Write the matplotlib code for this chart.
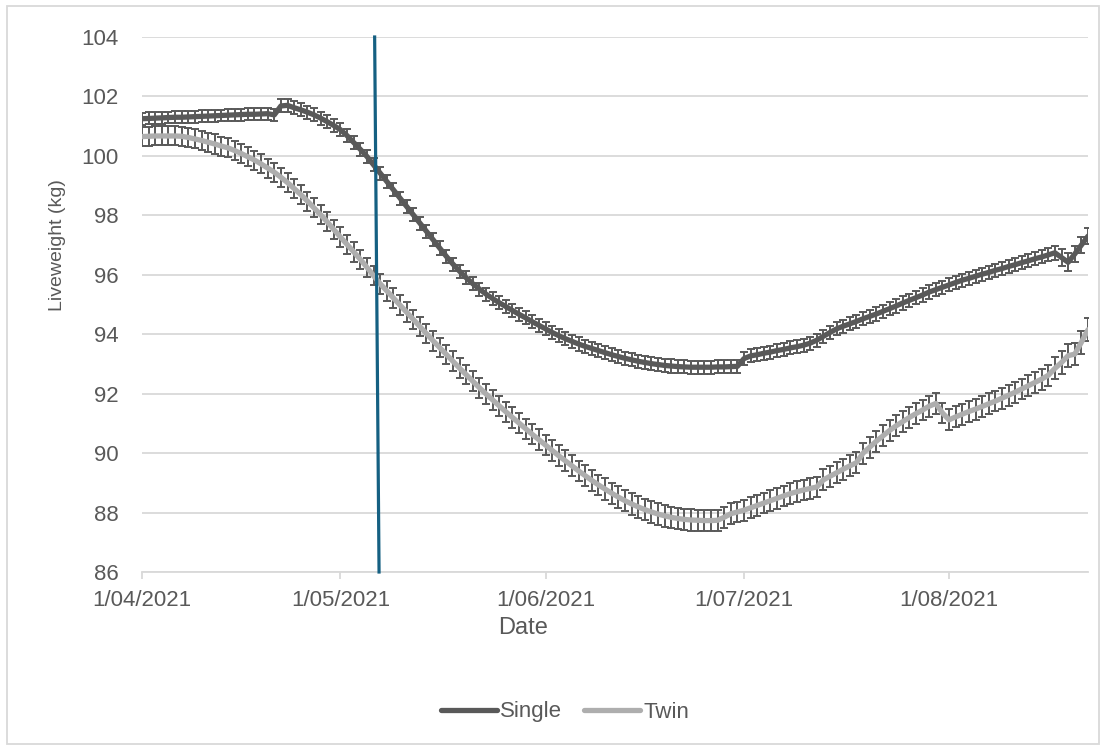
import numpy as np
import pandas as pd
import matplotlib
matplotlib.use("Agg")
import matplotlib.pyplot as plt
from matplotlib.patches import Rectangle

# daily liveweight means (kg), starting 1/04/2021
start_date = "2021-04-01"
single = [
    101.25, 101.26, 101.27, 101.28, 101.29, 101.30, 101.30, 101.31, 101.32, 101.33,
    101.34, 101.35, 101.36, 101.37, 101.38, 101.39, 101.40, 101.40, 101.41, 101.42,
    101.38, 101.68, 101.70, 101.62, 101.55, 101.47, 101.38, 101.27, 101.15, 101.02,
    100.88, 100.68, 100.45, 100.22, 99.98, 99.70, 99.42, 99.14, 98.86, 98.58,
    98.30, 98.02, 97.74, 97.46, 97.18, 96.90, 96.62, 96.36, 96.12, 95.90,
    95.70, 95.52, 95.35, 95.20, 95.06, 94.93, 94.80, 94.67, 94.55, 94.42,
    94.30, 94.18, 94.06, 93.95, 93.85, 93.76, 93.67, 93.59, 93.52, 93.45,
    93.38, 93.31, 93.25, 93.19, 93.14, 93.09, 93.05, 93.01, 92.98, 92.95,
    92.93, 92.91, 92.90, 92.89, 92.89, 92.89, 92.89, 92.90, 92.90, 92.91,
    92.92, 93.18, 93.27, 93.31, 93.36, 93.40, 93.45, 93.49, 93.54, 93.58,
    93.63, 93.70, 93.80, 93.93, 94.06, 94.18, 94.27, 94.35, 94.43, 94.52,
    94.60, 94.68, 94.77, 94.86, 94.95, 95.05, 95.14, 95.23, 95.32, 95.42,
    95.50, 95.58, 95.66, 95.74, 95.82, 95.88, 95.95, 96.02, 96.08, 96.15,
    96.21, 96.28, 96.34, 96.41, 96.47, 96.54, 96.60, 96.67, 96.74, 96.58,
    96.42, 96.70, 97.00, 97.30,
]
twin = [
    100.65, 100.66, 100.67, 100.67, 100.67, 100.67, 100.66, 100.62, 100.57, 100.52,
    100.46, 100.40, 100.33, 100.27, 100.18, 100.08, 99.97, 99.86, 99.73, 99.59,
    99.45, 99.28, 99.10, 98.90, 98.70, 98.48, 98.25, 98.02, 97.78, 97.52,
    97.27, 97.02, 96.77, 96.52, 96.25, 95.97, 95.70, 95.46, 95.22, 94.98,
    94.74, 94.50, 94.26, 94.02, 93.78, 93.55, 93.32, 93.09, 92.86, 92.64,
    92.42, 92.20, 91.99, 91.79, 91.59, 91.39, 91.20, 91.01, 90.82, 90.63,
    90.45, 90.27, 90.09, 89.91, 89.74, 89.57, 89.40, 89.24, 89.08, 88.93,
    88.79, 88.65, 88.52, 88.40, 88.29, 88.19, 88.10, 88.02, 87.95, 87.89,
    87.84, 87.80, 87.77, 87.75, 87.74, 87.73, 87.73, 87.74, 87.84, 87.96,
    88.02, 88.08, 88.16, 88.24, 88.32, 88.40, 88.48, 88.56, 88.64, 88.70,
    88.76, 88.81, 88.86, 89.10, 89.22, 89.34, 89.46, 89.57, 89.68, 90.00,
    90.20, 90.40, 90.58, 90.76, 90.92, 91.06, 91.20, 91.33, 91.45, 91.58,
    91.67, 91.35, 91.12, 91.22, 91.31, 91.40, 91.48, 91.57, 91.66, 91.75,
    91.85, 91.95, 92.05, 92.16, 92.27, 92.38, 92.49, 92.62, 92.85, 93.05,
    93.28, 93.33, 93.73, 94.15,
]
single_err = [
    0.20, 0.20, 0.20, 0.20, 0.20, 0.20, 0.20, 0.20, 0.20, 0.20,
    0.20, 0.20, 0.20, 0.20, 0.20, 0.20, 0.20, 0.20, 0.20, 0.20,
    0.20, 0.22, 0.22, 0.22, 0.22, 0.22, 0.22, 0.22, 0.22, 0.22,
    0.22, 0.22, 0.22, 0.22, 0.22, 0.22, 0.22, 0.22, 0.22, 0.22,
    0.22, 0.22, 0.22, 0.22, 0.22, 0.22, 0.22, 0.22, 0.22, 0.22,
    0.22, 0.22, 0.22, 0.22, 0.22, 0.22, 0.22, 0.22, 0.22, 0.22,
    0.22, 0.22, 0.22, 0.22, 0.22, 0.22, 0.22, 0.22, 0.22, 0.22,
    0.22, 0.22, 0.22, 0.22, 0.22, 0.22, 0.22, 0.22, 0.22, 0.22,
    0.22, 0.22, 0.22, 0.22, 0.22, 0.22, 0.22, 0.22, 0.22, 0.22,
    0.22, 0.22, 0.22, 0.22, 0.22, 0.22, 0.22, 0.22, 0.22, 0.22,
    0.22, 0.22, 0.22, 0.22, 0.22, 0.22, 0.22, 0.22, 0.22, 0.22,
    0.22, 0.22, 0.22, 0.22, 0.22, 0.22, 0.22, 0.22, 0.22, 0.22,
    0.22, 0.22, 0.22, 0.22, 0.22, 0.22, 0.22, 0.22, 0.22, 0.22,
    0.22, 0.22, 0.22, 0.22, 0.22, 0.22, 0.22, 0.22, 0.23, 0.28,
    0.30, 0.27, 0.27, 0.27,
]
twin_err = [
    0.32, 0.32, 0.32, 0.32, 0.32, 0.32, 0.32, 0.32, 0.32, 0.32,
    0.32, 0.32, 0.32, 0.32, 0.32, 0.32, 0.32, 0.32, 0.32, 0.32,
    0.32, 0.32, 0.32, 0.32, 0.32, 0.32, 0.32, 0.32, 0.32, 0.32,
    0.33, 0.33, 0.33, 0.33, 0.33, 0.33, 0.33, 0.33, 0.33, 0.33,
    0.33, 0.33, 0.33, 0.33, 0.33, 0.33, 0.33, 0.33, 0.33, 0.33,
    0.34, 0.34, 0.34, 0.34, 0.34, 0.34, 0.34, 0.34, 0.34, 0.34,
    0.35, 0.35, 0.35, 0.35, 0.35, 0.35, 0.35, 0.35, 0.35, 0.35,
    0.36, 0.36, 0.36, 0.36, 0.36, 0.36, 0.36, 0.36, 0.36, 0.36,
    0.36, 0.36, 0.36, 0.36, 0.36, 0.36, 0.36, 0.36, 0.36, 0.36,
    0.35, 0.35, 0.35, 0.35, 0.35, 0.35, 0.35, 0.35, 0.35, 0.35,
    0.35, 0.35, 0.35, 0.35, 0.35, 0.35, 0.35, 0.35, 0.35, 0.35,
    0.35, 0.35, 0.35, 0.35, 0.35, 0.35, 0.35, 0.35, 0.35, 0.35,
    0.35, 0.35, 0.35, 0.35, 0.35, 0.35, 0.35, 0.35, 0.35, 0.35,
    0.35, 0.35, 0.35, 0.35, 0.35, 0.35, 0.35, 0.36, 0.37, 0.38,
    0.38, 0.38, 0.38, 0.38,
]
series_names = ["Single", "Twin"]
month_ticks = ["2021-04-01", "2021-05-01", "2021-06-01", "2021-07-01", "2021-08-01"]
y_ticks = [86, 88, 90, 92, 94, 96, 98, 100, 102, 104]
# hand-drawn marker line (slightly slanted in the original)
marker_top = "2021-05-06 04:00"
marker_bottom = "2021-05-06 20:00"

dates = pd.date_range(start_date, periods=len(single), freq="D")

plt.rcParams["font.family"] = ["Liberation Sans", "DejaVu Sans"]
textColor = "#595959"
gridColor = "#D9D9D9"
W, H = 1106, 747

fig = plt.figure(figsize=(W / 100, H / 100), dpi=100)
ax = fig.add_axes([142 / W, 1 - 572 / H, 946 / W, 535 / H])

handles = []
for vals, errs, color, name in [(single, single_err, "#595959", series_names[0]),
                                (twin, twin_err, "#AEAEAE", series_names[1])]:
    ax.errorbar(dates, vals, yerr=errs, fmt="none", ecolor="#595959",
                elinewidth=1.4, capsize=3.2, capthick=1.4, zorder=3)
    ln, = ax.plot(dates, vals, color=color, lw=3.8, solid_capstyle="round",
                  solid_joinstyle="round", zorder=4, label=name)
    handles.append(ln)

ax.plot([pd.Timestamp(marker_top), pd.Timestamp(marker_bottom)], [104, 86],
        color="#156082", lw=2.3, zorder=6, clip_on=False)

ax.set_ylim(86, 104)
ax.set_xlim(dates[0], dates[-1])
ax.set_yticks(y_ticks)
ax.set_yticklabels([str(v) for v in y_ticks])
tick_dates = pd.to_datetime(month_ticks)
ax.set_xticks(tick_dates)
ax.set_xticklabels([f"{d.day}/{d.month:02d}/{d.year}" for d in tick_dates])

for side in ["left", "top", "right"]:
    ax.spines[side].set_visible(False)
ax.spines["bottom"].set_color(gridColor)
ax.spines["bottom"].set_linewidth(1.3)
ax.yaxis.grid(True, color=gridColor, lw=1.3)
ax.set_axisbelow(True)
ax.tick_params(axis="y", length=0, pad=17, labelsize=16, labelcolor=textColor)
ax.tick_params(axis="x", length=5, width=1.3, color=gridColor, pad=8,
               labelsize=16, labelcolor=textColor)

fig.text(58 / W, 1 - 245 / H, "Liveweight (kg)", rotation=90, ha="center",
         va="center", fontsize=14, color=textColor)
fig.text(523 / W, 1 - 628 / H, "Date", ha="center", va="center",
         fontsize=17, color=textColor)

fig.legend(handles=handles, loc="center", bbox_to_anchor=(565 / W, 1 - 712 / H),
           ncol=2, frameon=False, fontsize=16, handlelength=2.5,
           handletextpad=0.15, columnspacing=1.0, labelcolor=textColor)

fig.add_artist(Rectangle((7 / W, 1 - 744 / H), (1099 - 7) / W, (744 - 6) / H,
                         transform=fig.transFigure, fill=False,
                         ec=gridColor, lw=1.3))

fig.savefig("out.png", dpi=100)
